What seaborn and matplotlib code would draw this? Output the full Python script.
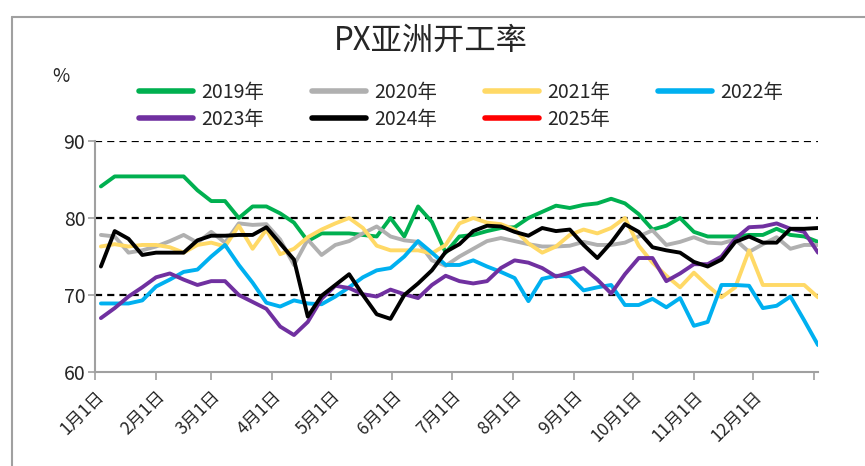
import numpy as np
import pandas as pd
import matplotlib
matplotlib.use("Agg")
import matplotlib.pyplot as plt
from matplotlib.lines import Line2D
import seaborn as sns

# weekly readings, day-of-year of each point
days = [3 + 7 * k for k in range(53)]

rate_2019 = [84.1, 85.4, 85.4, 85.4, 85.4, 85.4, 85.4, 83.6, 82.2, 82.2,
             80.0, 81.5, 81.5, 80.6, 79.4, 77.0, 78.0, 78.0, 78.0, 77.8,
             77.6, 80.0, 77.6, 81.5, 79.5, 75.5, 77.6, 77.8, 78.3, 78.7,
             78.8, 80.0, 80.8, 81.6, 81.3, 81.7, 81.9, 82.5, 81.9, 80.5,
             78.5, 79.0, 80.0, 78.2, 77.6, 77.6, 77.6, 77.8, 77.8, 78.6,
             77.8, 77.6, 76.9]
rate_2020 = [77.8, 77.6, 75.5, 75.8, 76.3, 77.0, 77.8, 76.8, 78.2, 76.8,
             79.3, 79.1, 79.2, 77.2, 73.9, 77.2, 75.2, 76.5, 77.0, 78.0,
             78.9, 77.6, 77.1, 76.9, 74.5, 73.8, 75.0, 76.0, 77.0, 77.4,
             77.0, 76.6, 76.3, 76.3, 76.4, 76.9, 76.5, 76.5, 76.8, 77.6,
             78.4, 76.5, 76.9, 77.5, 76.8, 76.7, 77.2, 75.6, 76.6, 77.5,
             76.0, 76.5, 76.5]
rate_2021 = [76.3, 76.6, 76.3, 76.5, 76.5, 76.2, 75.5, 76.5, 76.8, 76.3,
             79.0, 76.0, 78.5, 75.3, 76.0, 77.5, 78.5, 79.3, 80.0, 78.7,
             76.4, 75.8, 75.8, 75.8, 75.4, 76.5, 79.3, 80.0, 79.4, 79.2,
             78.5, 76.7, 75.5, 76.3, 77.8, 78.5, 78.0, 78.7, 80.0, 76.4,
             74.2, 72.5, 71.0, 72.9, 71.2, 69.7, 71.0, 75.8, 71.3, 71.3,
             71.3, 71.3, 69.7]
rate_2022 = [68.9, 68.9, 68.9, 69.3, 71.1, 72.0, 73.0, 73.3, 75.0, 76.5,
             73.9, 71.6, 69.0, 68.5, 69.3, 68.9, 68.8, 69.8, 71.0, 72.3,
             73.2, 73.5, 75.0, 77.0, 75.5, 73.9, 73.9, 74.5, 73.7, 73.0,
             72.2, 69.2, 72.1, 72.5, 72.4, 70.6, 71.0, 71.3, 68.7, 68.7,
             69.5, 68.4, 69.6, 66.0, 66.5, 71.3, 71.3, 71.2, 68.3, 68.6,
             69.8, 66.7, 63.5]
rate_2023 = [67.0, 68.3, 69.8, 71.0, 72.3, 72.8, 72.0, 71.3, 71.8, 71.8,
             70.0, 69.1, 68.2, 65.9, 64.8, 66.5, 69.5, 71.2, 70.9, 70.1,
             69.8, 70.7, 70.1, 69.6, 71.3, 72.5, 71.8, 71.5, 71.8, 73.5,
             74.5, 74.2, 73.5, 72.4, 72.9, 73.5, 72.0, 70.2, 72.7, 74.8,
             74.8, 71.8, 72.8, 74.0, 74.0, 75.0, 77.3, 78.8, 78.9, 79.3,
             78.6, 78.2, 75.5]
rate_2024 = [73.7, 78.3, 77.3, 75.2, 75.5, 75.5, 75.5, 77.1, 77.7, 77.7,
             77.8, 77.8, 78.8, 76.7, 74.6, 67.2, 69.9, 71.3, 72.7, 70.0,
             67.5, 66.9, 70.0, 71.5, 73.2, 75.6, 76.6, 78.3, 79.0, 78.9,
             78.2, 77.7, 78.7, 78.3, 78.5, 76.5, 74.8, 76.8, 79.2, 78.2,
             76.2, 75.8, 75.5, 74.3, 73.7, 74.6, 76.9, 77.6, 76.8, 76.8,
             78.6, 78.6, 78.7]
rate_2025 = []

years = ["2019年", "2020年", "2021年", "2022年", "2023年", "2024年", "2025年"]
series = [rate_2019, rate_2020, rate_2021, rate_2022, rate_2023, rate_2024, rate_2025]
colors = ["#00B050", "#B0B0B0", "#FFD966", "#00B0F0", "#7030A0", "#000000", "#FF0000"]

month_days = [0, 31, 59, 90, 120, 151, 181, 212, 243, 273, 304, 334, 365]
month_labels = ["1月1日", "2月1日", "3月1日", "4月1日", "5月1日", "6月1日",
                "7月1日", "8月1日", "9月1日", "10月1日", "11月1日", "12月1日", ""]

rows = []
for yr, vals in zip(years, series):
    for d, v in zip(days, vals):
        rows.append({"day": d, "rate": v, "year": yr})
df = pd.DataFrame(rows)

sns.set_theme(style="white")
plt.rcParams["font.family"] = ["Noto Sans CJK SC", "DejaVu Sans"]

fig = plt.figure(figsize=(8.65, 4.66), dpi=100)
ax = fig.add_axes([95 / 865, 1 - 372 / 466, 723 / 865, 231 / 466])

for g in [70, 80, 90]:
    ax.axhline(g, color="black", lw=1.6, ls=(0, (3.2, 2.3)), zorder=1)

sns.lineplot(data=df, x="day", y="rate", hue="year",
             hue_order=years[:6], palette=colors[:6],
             linewidth=2.8, legend=False, ax=ax, zorder=3)

ax.set_xlim(0, 367)
ax.set_ylim(60, 90)
ax.set_yticks([60, 70, 80, 90])
ax.set_xticks(month_days)
ax.set_xticklabels(month_labels, rotation=45, ha="right", rotation_mode="anchor",
                   fontsize=12.5)
ax.tick_params(axis="y", labelsize=14, length=5, width=1.2, color="#A0A0A0",
               direction="out", left=True, pad=2)
ax.tick_params(axis="x", length=6, width=1.2, color="#A0A0A0",
               direction="out", bottom=True, pad=5)
ax.set_xlabel("")
ax.set_ylabel("")
for s in ["top", "right"]:
    ax.spines[s].set_visible(False)
for s in ["left", "bottom"]:
    ax.spines[s].set_color("#A0A0A0")
    ax.spines[s].set_linewidth(1.5)

# legend, row-major order
order = [0, 4, 1, 5, 2, 6, 3]
handles = [Line2D([], [], color=colors[i], lw=4) for i in order]
labels = [years[i] for i in order]
fig.legend(handles, labels, ncol=4, loc="upper left",
           bbox_to_anchor=(139 / 865, 1 - 82 / 466), frameon=False,
           fontsize=14, handlelength=2.8, handletextpad=0.4,
           columnspacing=2.45, labelspacing=0.3, borderpad=0, borderaxespad=0)

fig.text(0.498, 1 - 41 / 466, "PX亚洲开工率", ha="center", va="center", fontsize=22.5)
fig.text(61 / 865, 1 - 76 / 466, "%", ha="center", va="center", fontsize=13.5)

# outer frame
fig.add_artist(Line2D([12 / 865, 12 / 865], [0, 1 - 17 / 466], color="#A0A0A0",
                      lw=1.5, transform=fig.transFigure))
fig.add_artist(Line2D([12 / 865, 1], [1 - 17 / 466, 1 - 17 / 466], color="#A0A0A0",
                      lw=1.5, transform=fig.transFigure))

fig.savefig("out.png", dpi=100)
